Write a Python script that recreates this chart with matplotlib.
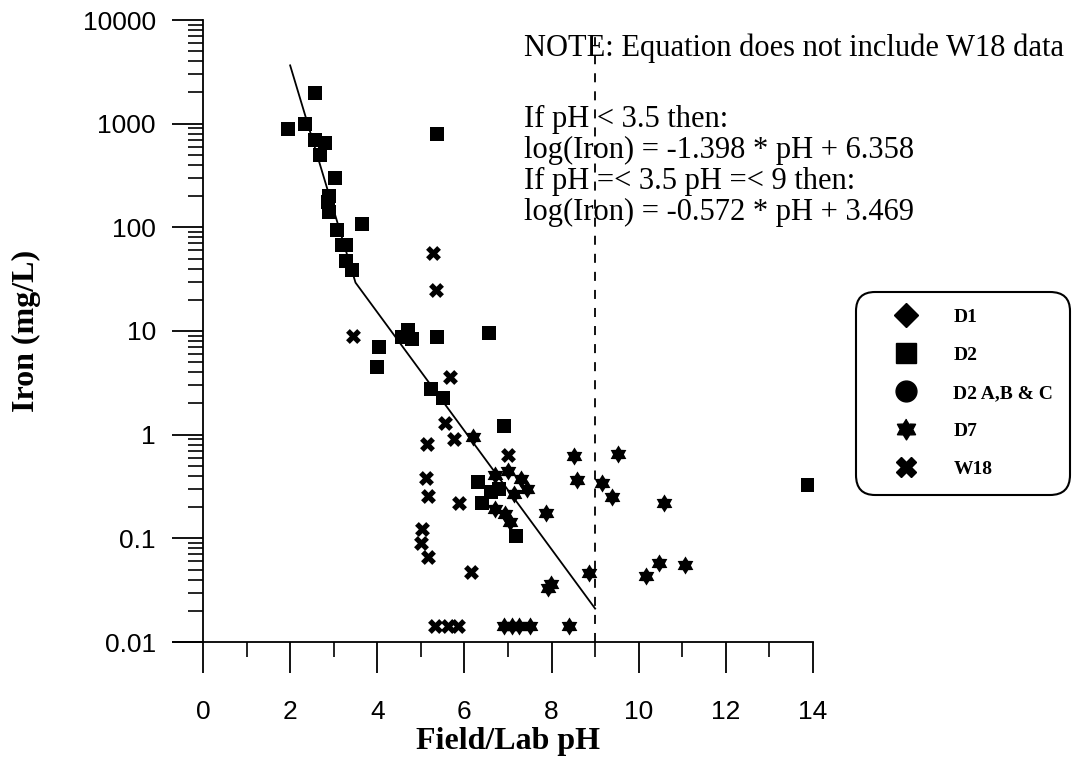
import numpy as np
import matplotlib
matplotlib.use("Agg")
import matplotlib.pyplot as plt
from matplotlib.lines import Line2D
from matplotlib.path import Path
from matplotlib.ticker import LogLocator, FuncFormatter, FixedLocator

# D2 samples (pH, iron mg/L)
d2_ph = [1.94, 2.33, 2.57, 2.57, 2.80, 2.69, 3.03, 2.90, 2.86, 2.90, 3.64, 3.07,
         3.18, 3.28, 3.28, 3.41, 5.36, 4.05, 3.99, 4.71, 4.56, 4.79, 5.36, 6.57,
         5.23, 5.50, 6.91, 6.32, 6.62, 6.80, 6.40, 7.18, 13.89]
d2_fe = [885, 1000, 1995, 690, 645, 497, 296, 200, 176, 141, 107, 94,
         67, 67, 47.5, 39, 792, 7.05, 4.46, 10.2, 8.8, 8.4, 8.8, 9.6,
         2.73, 2.24, 1.21, 0.35, 0.28, 0.30, 0.22, 0.105, 0.33]

# D7 samples
d7_ph = [6.20, 6.70, 7.01, 7.29, 7.43, 7.14, 6.70, 6.93, 7.05, 7.87, 8.51, 8.58,
         9.15, 9.38, 9.52, 10.59, 7.91, 7.99, 8.87, 10.17, 10.47, 11.06,
         6.90, 7.10, 7.25, 7.50, 8.40]
d7_fe = [0.94, 0.41, 0.45, 0.37, 0.30, 0.265, 0.19, 0.17, 0.145, 0.177, 0.62, 0.365,
         0.34, 0.25, 0.65, 0.217, 0.033, 0.036, 0.046, 0.043, 0.058, 0.055,
         0.0143, 0.0143, 0.0143, 0.0143, 0.0143]

# W18 samples
w18_ph = [3.45, 5.29, 5.35, 5.67, 5.55, 5.76, 5.13, 5.11, 5.17, 5.88, 5.02, 5.00,
          5.17, 6.14, 7.00, 5.32, 5.63, 5.86]
w18_fe = [8.9, 56.8, 24.8, 3.57, 1.29, 0.90, 0.82, 0.385, 0.255, 0.217, 0.122, 0.0895,
          0.0665, 0.0476, 0.64, 0.0143, 0.0143, 0.0143]

# fitted line (two segments, break at pH 3.5)
fit_ph = [2.0, 3.5, 9.0]
fit_fe = [3650, 29.3, 0.021]

y_ticks = [0.01, 0.1, 1, 10, 100, 1000, 10000]
x_ticks = [0, 2, 4, 6, 8, 10, 12, 14]

note = "NOTE: Equation does not include W18 data"
eq_lines = ["If pH < 3.5 then:",
            "log(Iron) = -1.398 * pH + 6.358",
            "If pH =< 3.5 pH =< 9 then:",
            "log(Iron) = -0.572 * pH + 3.469"]

serif = "Liberation Serif"
sans = "Liberation Sans"

# six pointed star (star of david) marker
ang = np.pi / 2 + np.arange(12) * np.pi / 6
rad = np.where(np.arange(12) % 2 == 0, 1.0, 0.6)
hexagram = Path(np.column_stack([rad * np.cos(ang), rad * np.sin(ang)]))

fig = plt.figure(figsize=(10.75, 7.62), dpi=100)
ax = fig.add_axes([172.5 / 1075, 120 / 762, (813 - 172.5) / 1075, 622 / 762])

ax.set_yscale("log")
ax.set_xlim(-0.7, 14)
ax.set_ylim(0.01, 10000)

ax.spines["top"].set_visible(False)
ax.spines["right"].set_visible(False)
ax.spines["left"].set_position(("data", 0))
ax.spines["left"].set_linewidth(1.3)
ax.spines["bottom"].set_linewidth(1.3)

# fit line and pH 9 limit
ax.plot(fit_ph, fit_fe, color="black", lw=1.3, zorder=2)
ax.plot([9, 9], [0.01, 7600], color="black", lw=1.3, dashes=(5, 5), zorder=1)

ax.scatter(d2_ph, d2_fe, marker="s", s=100, color="black", lw=0, zorder=3)
ax.scatter(d7_ph, d7_fe, marker=hexagram, s=170, color="black", lw=0, zorder=3)
ax.scatter(w18_ph, w18_fe, marker="X", s=115, color="black", lw=0, zorder=3)

ax.yaxis.set_major_locator(FixedLocator(y_ticks))
ax.yaxis.set_minor_locator(LogLocator(base=10, subs=np.arange(2, 10)))
ax.yaxis.set_major_formatter(FuncFormatter(lambda v, p: "%g" % v))
ax.yaxis.set_minor_formatter(FuncFormatter(lambda v, p: ""))
ax.set_xticks(x_ticks)
ax.set_xticks(range(1, 14, 2), minor=True)

ax.tick_params(axis="both", which="major", direction="out", length=22, width=1.3,
               labelsize=19)
ax.tick_params(axis="both", which="minor", direction="out", length=11, width=1.2)
ax.tick_params(axis="y", which="major", pad=12)
ax.tick_params(axis="x", which="major", pad=20)
for lab in ax.get_xticklabels() + ax.get_yticklabels():
    lab.set_fontfamily(sans)

ax.set_xlabel("Field/Lab pH", fontfamily=serif, fontweight="bold", fontsize=23)
ax.xaxis.set_label_coords(7.7 / 14.7, -0.136)
ax.set_ylabel("Iron (mg/L)", fontfamily=serif, fontweight="bold", fontsize=23)
ax.yaxis.set_label_coords(-0.205, 0.5)

fig.text(524 / 1075, 1 - 48 / 762, note, fontfamily=serif, fontsize=22, va="center")
for i, line in enumerate(eq_lines):
    fig.text(524 / 1075, 1 - (119 + 31 * i) / 762, line, fontfamily=serif,
             fontsize=22, va="center")

handles = [
    Line2D([], [], ls="none", marker="D", ms=12, color="black"),
    Line2D([], [], ls="none", marker="s", ms=14, color="black"),
    Line2D([], [], ls="none", marker="o", ms=15, color="black"),
    Line2D([], [], ls="none", marker=hexagram, ms=15, color="black"),
    Line2D([], [], ls="none", marker="X", ms=14, color="black"),
]
labels = ["D1", "D2", "D2 A,B & C", "D7", "W18"]
leg = fig.legend(handles, labels, loc="upper left",
                 bbox_to_anchor=(856 / 1075, 1 - 292 / 762),
                 borderaxespad=0, frameon=True, fancybox=True,
                 prop={"family": serif, "weight": "bold", "size": 14},
                 handlelength=3.4, handletextpad=0.75, labelspacing=1.05,
                 borderpad=0.85)
frame = leg.get_frame()
frame.set_edgecolor("black")
frame.set_linewidth(1.5)
frame.set_boxstyle("round,pad=0,rounding_size=1.0")
frame.set_alpha(1)

fig.savefig("out.png", dpi=100)
